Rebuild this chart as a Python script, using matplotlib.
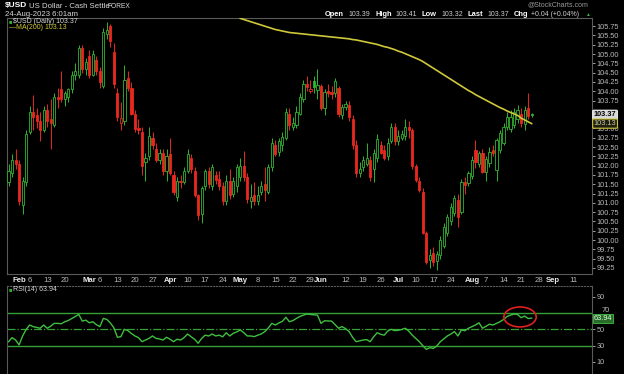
import numpy as np
import pandas as pd
import matplotlib
matplotlib.use("Agg")
import matplotlib.pyplot as plt
from matplotlib.patches import Ellipse
from matplotlib.transforms import blended_transform_factory

plt.rcParams['font.family'] = ['Liberation Sans', 'DejaVu Sans']

# trading days shown on the chart
dates = pd.bdate_range("2023-01-27", "2023-08-24")

opens = [101.55, 101.80, 102.15, 102.05, 100.95, 101.55, 102.90, 103.45, 103.35, 103.20,
         102.95, 103.50, 103.25, 103.10, 103.85, 104.05, 103.78, 103.85, 104.05, 104.45,
         104.45, 105.15, 104.60, 104.95, 104.45, 104.85, 104.55, 104.15, 105.55, 105.75,
         105.05, 103.95, 103.15, 103.20, 104.35, 104.10, 103.40, 103.00, 102.90, 102.10,
         102.25, 102.75, 102.45, 102.15, 102.35, 101.85, 102.30, 101.75, 101.15, 101.60,
         101.55, 101.85, 102.20, 101.85, 101.20, 100.70, 101.45, 101.85, 101.45, 101.75,
         101.65, 101.45, 101.05, 101.60, 101.25, 101.45, 101.70, 102.00, 101.70, 101.05,
         101.20, 101.05, 101.30, 101.50, 101.30, 101.95, 102.55, 102.37, 102.55, 102.75,
         103.40, 103.05, 103.10, 103.40, 103.80, 104.20, 104.00, 104.28, 104.03, 104.15,
         103.55, 104.00, 103.98, 103.95, 104.10, 103.36, 103.58, 103.63, 103.25, 102.55,
         101.80, 101.95, 102.05, 102.15, 101.90, 102.20, 102.55, 102.42, 102.25, 102.65,
         103.05, 102.65, 102.75, 102.80, 103.05, 102.95, 101.98, 101.60, 101.30, 100.18,
         99.46, 99.64, 99.44, 99.60, 99.85, 100.20, 100.50, 100.72, 101.08, 100.75,
         101.55, 101.52, 101.72, 102.42, 102.05, 102.33, 101.84, 102.06, 102.42, 101.88,
         102.42, 102.60, 103.05, 102.98, 103.10, 103.25, 103.40, 103.12, 103.54, 103.39]
highs = [102.05, 102.30, 102.45, 102.15, 101.70, 102.95, 103.60, 103.90, 103.55, 103.45,
         103.60, 103.65, 103.80, 103.95, 104.10, 104.55, 104.00, 104.10, 104.55, 104.75,
         105.25, 105.25, 104.90, 105.10, 105.10, 104.95, 104.65, 105.70, 105.85, 105.80,
         105.30, 104.10, 103.70, 104.70, 104.55, 104.25, 103.50, 103.25, 103.05, 102.35,
         103.05, 102.90, 102.60, 102.45, 102.45, 102.45, 102.75, 101.85, 101.70, 101.75,
         101.95, 102.45, 102.30, 101.95, 101.25, 101.45, 101.90, 101.95, 102.05, 101.85,
         101.85, 101.55, 101.75, 101.90, 101.70, 102.05, 102.20, 102.40, 101.80, 101.50,
         101.55, 101.45, 101.60, 101.95, 102.05, 102.75, 102.70, 102.75, 102.90, 103.55,
         103.55, 103.30, 103.60, 103.95, 104.30, 104.40, 104.30, 104.40, 104.60, 104.20,
         104.05, 104.20, 104.15, 104.35, 104.15, 103.65, 103.75, 103.75, 103.35, 102.70,
         102.10, 102.25, 102.60, 102.25, 102.45, 102.85, 102.65, 102.55, 102.75, 103.15,
         103.15, 102.95, 102.95, 103.25, 103.20, 103.00, 102.05, 101.70, 101.40, 100.25,
         99.75, 99.80, 99.70, 100.10, 100.45, 100.70, 101.00, 101.20, 101.25, 101.65,
         101.70, 101.85, 102.25, 102.69, 102.40, 102.45, 102.25, 102.50, 102.55, 102.75,
         102.95, 103.15, 103.45, 103.50, 103.55, 103.62, 103.55, 103.60, 103.94, 103.41]
lows = [101.45, 101.70, 101.90, 100.95, 100.70, 101.45, 102.85, 102.95, 103.00, 102.65,
        102.90, 103.05, 102.45, 103.05, 103.55, 103.70, 103.60, 103.70, 103.95, 104.30,
        104.35, 104.50, 104.45, 104.35, 104.40, 104.45, 104.10, 104.10, 105.40, 105.20,
        104.10, 103.20, 102.95, 103.10, 104.00, 103.35, 102.90, 102.85, 101.75, 101.60,
        102.15, 102.45, 102.10, 102.05, 101.75, 101.60, 101.75, 101.20, 101.05, 101.40,
        101.50, 101.80, 101.80, 101.15, 100.55, 100.45, 101.35, 101.40, 101.35, 101.50,
        101.35, 100.95, 100.95, 101.10, 101.15, 101.30, 101.60, 101.60, 101.00, 100.85,
        100.95, 100.95, 101.20, 101.05, 101.25, 101.85, 102.25, 102.25, 102.40, 102.70,
        102.95, 102.95, 103.00, 103.35, 103.70, 104.00, 103.95, 103.95, 103.80, 103.50,
        103.35, 103.85, 103.80, 103.85, 103.30, 103.25, 103.50, 103.20, 102.45, 101.70,
        101.70, 101.85, 102.00, 101.60, 101.55, 102.10, 102.30, 102.15, 102.15, 102.60,
        102.55, 102.55, 102.70, 102.70, 102.75, 101.90, 101.55, 101.30, 100.15, 99.35,
        99.25, 99.30, 99.19, 99.50, 99.78, 100.10, 100.40, 100.65, 100.35, 100.70,
        101.25, 101.45, 101.65, 101.93, 101.95, 101.80, 101.60, 101.95, 102.25, 101.60,
        102.35, 102.55, 102.95, 102.90, 103.00, 103.15, 103.05, 102.95, 103.25, 103.32]
closes = [101.85, 102.15, 102.05, 101.05, 101.60, 102.85, 103.45, 103.30, 103.20, 102.95,
          103.50, 103.20, 103.15, 103.85, 103.80, 103.78, 103.95, 104.05, 104.45, 104.55,
          105.15, 104.60, 104.80, 104.45, 105.00, 104.55, 104.25, 105.60, 105.65, 105.35,
          104.20, 103.30, 103.28, 104.30, 104.10, 103.40, 102.98, 102.95, 102.00, 102.20,
          102.80, 102.55, 102.15, 102.35, 101.85, 102.25, 101.80, 101.30, 101.60, 101.55,
          101.85, 102.30, 101.90, 101.20, 100.67, 101.40, 101.85, 101.50, 101.95, 101.62,
          101.45, 101.05, 101.60, 101.20, 101.60, 101.95, 101.98, 101.70, 101.10, 101.15,
          101.05, 101.20, 101.45, 101.35, 101.95, 102.60, 102.30, 102.65, 102.77, 103.45,
          103.10, 103.15, 103.45, 103.85, 104.20, 104.12, 104.05, 104.12, 104.17, 103.55,
          103.98, 103.95, 103.92, 104.28, 103.40, 103.58, 103.67, 103.31, 102.55, 101.80,
          101.90, 102.15, 102.20, 101.70, 102.35, 102.72, 102.35, 102.20, 102.60, 103.05,
          102.65, 102.80, 102.85, 103.05, 102.95, 101.98, 101.62, 101.35, 100.18, 99.42,
          99.60, 99.42, 99.62, 100.00, 100.36, 100.63, 100.90, 101.12, 100.63, 101.55,
          101.48, 101.79, 102.15, 102.10, 102.33, 101.84, 102.19, 102.37, 102.35, 102.69,
          102.87, 103.05, 103.30, 103.32, 103.45, 103.49, 103.15, 103.50, 103.33, 103.37]

# 200-day moving average, from May 1 onwards
ma_start = 66
ma200 = [105.96, 105.93, 105.90, 105.87, 105.84, 105.81, 105.78, 105.75, 105.72, 105.69,
         105.66, 105.64, 105.62, 105.60, 105.58, 105.57, 105.56, 105.55, 105.54, 105.53,
         105.52, 105.51, 105.50, 105.49, 105.48, 105.47, 105.46, 105.45, 105.44, 105.43,
         105.42, 105.41, 105.39, 105.38, 105.36, 105.34, 105.32, 105.30, 105.28, 105.26,
         105.23, 105.20, 105.18, 105.15, 105.12, 105.08, 105.05, 105.01, 104.97, 104.93,
         104.89, 104.85, 104.80, 104.74, 104.68, 104.62, 104.56, 104.50, 104.44, 104.38,
         104.32, 104.26, 104.20, 104.14, 104.08, 104.02, 103.97, 103.91, 103.86, 103.81,
         103.76, 103.71, 103.66, 103.61, 103.56, 103.52, 103.47, 103.43, 103.39, 103.35,
         103.28, 103.23, 103.18, 103.13]

rsi = [35, 40, 37, 31, 42, 50, 55.5, 53.5, 52.5, 51.5,
       55.5, 51.5, 54, 57.5, 57.5, 57, 59.5, 61, 63.5, 66,
       68.5, 60.3, 61.5, 58.2, 59.5, 56, 53.5, 63.6, 62.3, 58,
       52, 40.4, 41.2, 50.2, 48.5, 45, 42, 40, 35, 37,
       39, 42, 39, 38.3, 37, 40.4, 38, 35, 38, 37,
       40, 44.4, 41, 38, 33, 39, 43, 42, 44.4, 42,
       43, 41, 46, 42, 45.3, 47, 49.4, 46, 42, 42,
       41.2, 43, 44.5, 47.4, 52, 57.5, 55.5, 58, 60, 65,
       59.5, 61, 63.6, 66, 67.7, 69, 68.5, 68, 67.7, 57.5,
       60.7, 60.5, 60.3, 56, 51.5, 53.5, 51, 47.4, 40.4, 35,
       36, 37, 37.5, 35, 41, 46, 44, 43, 48, 50.2,
       48.6, 49, 50, 51.5, 48, 43, 39, 35, 30, 25.6,
       27.5, 26.8, 29.7, 35, 38.5, 42, 44.4, 47.4, 42, 49.4,
       48.5, 51.5, 53.5, 55.5, 58.2, 51.5, 54, 56.5, 55.5, 57.5,
       59.5, 62.3, 66, 67.7, 69, 68.5, 64.5, 66.5, 63.5, 63.94]

# axis labels along the date strip
date_ticks = [3, 6, 11, 16, 23, 26, 31, 36, 41, 46, 51, 56, 61, 66, 71, 76, 81, 86, 89,
              96, 101, 106, 111, 116, 121, 126, 132, 136, 141, 146, 151, 155, 161]
date_labels = ["Feb", "6", "13", "20", "Mar", "6", "13", "20", "27", "Apr", "10", "17", "24",
               "May", "8", "15", "22", "29", "Jun", "12", "19", "26", "Jul", "10", "17", "24",
               "Aug", "7", "14", "21", "28", "Sep", "11"]
price_ticks = [99.25, 99.50, 99.75, 100.00, 100.25, 100.50, 100.75, 101.00, 101.25, 101.50,
               101.75, 102.00, 102.25, 102.50, 102.75, 103.00, 103.75, 104.00, 104.25,
               104.50, 104.75, 105.00, 105.25, 105.50, 105.75]
rsi_ticks = [90, 50, 30, 10]

GREEN = "#2fb52f"
RED = "#e8281e"
GRID = "#5a5a5a"
TXT = "#b8b8b8"

fig = plt.figure(figsize=(6.24, 3.74), dpi=100, facecolor="black")
ax = fig.add_axes([7 / 624, 100 / 374, 585 / 624, 256 / 374], facecolor="black")
ax2 = fig.add_axes([7 / 624, 0, 585 / 624, 88 / 374], facecolor="black")

x = np.arange(len(closes))
o = np.array(opens)
c = np.array(closes)
prev = np.concatenate([[c[0] - 1], c[:-1]])
col = np.where(c >= prev, GREEN, RED)
face = [cc if cl < op else "black" for cc, cl, op in zip(col, c, o)]

ax.vlines(x, lows, highs, colors=col, lw=0.7, zorder=2)
body = np.maximum(np.abs(c - o), 0.02)
ax.bar(x, body, bottom=np.minimum(o, c), width=0.62, color=face, edgecolor=col,
       linewidth=0.6, zorder=3)
ax.plot(np.arange(ma_start, ma_start + len(ma200)), ma200, color="#cfc83a", lw=1.2, zorder=4)

ax.set_xlim(-0.45, 166.2)
ax.set_ylim(99.086, 105.97)
ax.yaxis.tick_right()
ax.set_yticks(price_ticks)
ax.set_yticklabels([f"{p:.2f}" for p in price_ticks])
ax.tick_params(axis="y", colors=TXT, labelsize=5.3, length=2, width=0.6, pad=1.5)
ax.set_xticks(date_ticks)
ax.set_xticklabels(date_labels)
ax.tick_params(axis="x", length=0, pad=2.5, labelsize=5.6, colors=TXT)
for lab in ax.get_xticklabels():
    if lab.get_text().isalpha():
        lab.set_fontweight("bold")
        lab.set_color("#e8e8e8")
        if lab.get_text() == "Jun":
            lab.set_x(89.6)
for s in ax.spines.values():
    s.set_color(GRID)
    s.set_linewidth(0.8)

# price tags on the right edge
tr = blended_transform_factory(ax.transAxes, ax.transData)
ax.text(1.003, closes[-1], "103.37", transform=tr, fontsize=5.3, va="center", ha="left",
        color="black", fontweight="bold",
        bbox=dict(boxstyle="round,pad=0.15", fc="#d8d8d8", ec="white", lw=0.6))
ax.text(1.003, ma200[-1], "103.13", transform=tr, fontsize=5.3, va="center", ha="left",
        color="#c8c8a0",
        bbox=dict(boxstyle="round,pad=0.15", fc="#202010", ec="#cfc83a", lw=0.8))

# legend
ax.text(0.003, 0.987, "\u25a0", transform=ax.transAxes, fontsize=4, color=GREEN, va="center")
ax.text(0.011, 0.987, "$USD (Daily) 103.37", transform=ax.transAxes, fontsize=5,
        color="#d8d8d8", va="center")
ax.text(0.003, 0.963, "\u2014MA(200) 103.13", transform=ax.transAxes, fontsize=5,
        color="#cfc83a", va="center")

# RSI panel
ax2.plot(x, rsi, color="#3fbf3f", lw=1.0, zorder=3)
ax2.axhline(70, color="#35a035", lw=1.0)
ax2.axhline(30, color="#35a035", lw=1.0)
ax2.axhline(50, color="#35a035", lw=0.9, ls="-.")
ax2.add_patch(Ellipse((145.7, 65.4), 9.2, 24.5, fill=False, ec="#e02020", lw=1.2, zorder=4))
ax2.set_xlim(-0.45, 166.2)
ax2.set_ylim(-4.8, 103.5)
ax2.set_xticks([])
ax2.yaxis.tick_right()
ax2.set_yticks(rsi_ticks)
ax2.tick_params(axis="y", colors=TXT, labelsize=5.3, length=2, width=0.6, pad=1.5)
for s in ax2.spines.values():
    s.set_color(GRID)
    s.set_linewidth(0.8)
ax2.spines["top"].set_linestyle(":")
ax2.spines["bottom"].set_visible(False)
tr2 = blended_transform_factory(ax2.transAxes, ax2.transData)
# the "70" label sits half hidden behind the value tag, as on the original
ax2.text(1.017, 73.5, "70", transform=tr2, fontsize=5.3, va="center", ha="left", color=TXT)
ax2.text(1.003, 63.94, "63.94", transform=tr2, fontsize=5.3, va="center", ha="left",
         color="#d8ffd8", zorder=5,
         bbox=dict(boxstyle="square,pad=0.15", fc="#2a6a2a", ec="#3fbf3f", lw=0.6))
ax2.text(0.003, 0.96, "\u25a0", transform=ax2.transAxes, fontsize=4, color=GREEN, va="center")
ax2.text(0.011, 0.96, "RSI(14) 63.94", transform=ax2.transAxes, fontsize=5,
         color="#d8d8d8", va="center")

# header
def ftext(px, py, s, **kw):
    fig.text(px / 624, 1 - py / 374, s, va="center", ha="left", **kw)

ftext(5, 6, "$USD", fontsize=6.0, color="white", fontweight="bold")
ftext(29, 6, "US Dollar - Cash Settle", fontsize=5.6, color="#d8d8d8")
ftext(108, 6.3, "FOREX", fontsize=4.8, color="#d8d8d8")
ftext(5, 14, "24-Aug-2023 6:01am", fontsize=5.6, color="#d8d8d8")
ftext(527, 5, "@StockCharts.com", fontsize=5, color="#9a9a9a")
head = [(325, "Open", True), (348, "103.39", False), (375, "High", True), (395, "103.41", False),
        (421, "Low", True), (441, "103.32", False), (467, "Last", True), (487, "103.37", False),
        (514, "Chg", True), (531, "+0.04 (+0.04%)", False)]
for px, s, b in head:
    ftext(px, 14, s, fontsize=5.4 if b else 5.0, color="white" if b else "#cfcfcf",
          fontweight="bold" if b else "normal")
ftext(585, 14.5, "\u25b2", fontsize=3.5, color=GREEN)

fig.savefig("out.png", dpi=100, facecolor="black")
